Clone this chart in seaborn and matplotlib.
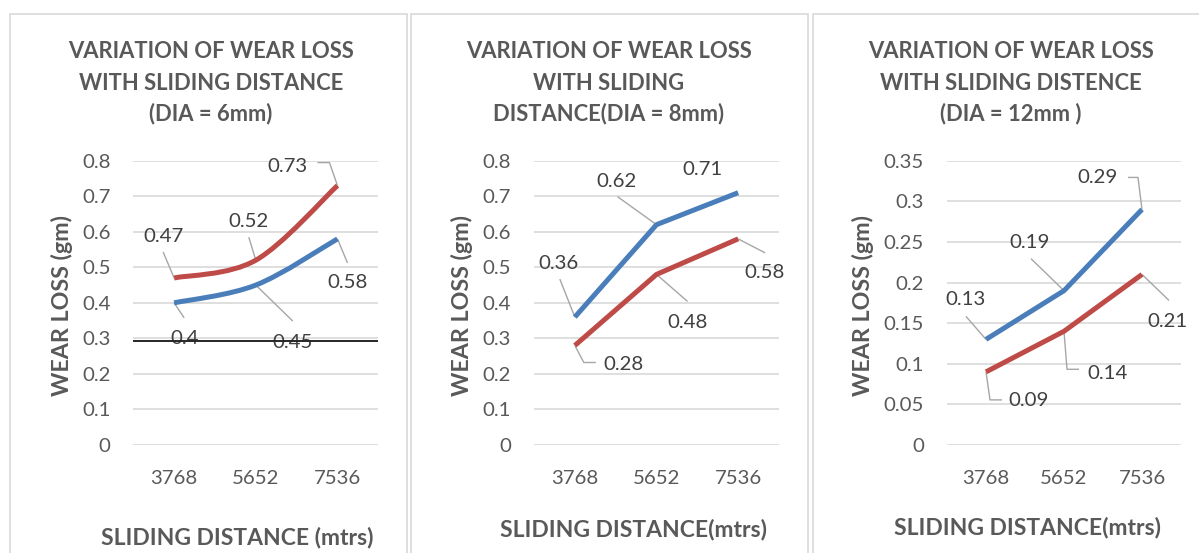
import numpy as np
import pandas as pd
import matplotlib
matplotlib.use("Agg")
import matplotlib.pyplot as plt
from matplotlib.path import Path
from matplotlib.patches import PathPatch, Rectangle
import seaborn as sns

# ---------------- data ----------------
distances = ["3768", "5652", "7536"]

p1_blue = [0.40, 0.45, 0.58]
p1_red = [0.47, 0.52, 0.73]
p2_blue = [0.36, 0.62, 0.71]
p2_red = [0.28, 0.48, 0.58]
p3_blue = [0.13, 0.19, 0.29]
p3_red = [0.09, 0.14, 0.21]
p1_ref_line = 0.293

titles = [
    ["VARIATION OF WEAR LOSS", "WITH SLIDING DISTANCE", "(DIA = 6mm)"],
    ["VARIATION OF WEAR LOSS", "WITH SLIDING", "DISTANCE(DIA = 8mm)"],
    ["VARIATION OF WEAR LOSS", "WITH SLIDING DISTENCE", "(DIA = 12mm )"],
]
x_titles = ["SLIDING DISTANCE (mtrs)", "SLIDING DISTANCE(mtrs)", "SLIDING DISTANCE(mtrs)"]
y_title = "WEAR LOSS (gm)"

yticks_08 = [0, 0.1, 0.2, 0.3, 0.4, 0.5, 0.6, 0.7, 0.8]
ytick_labels_08 = ["0", "0.1", "0.2", "0.3", "0.4", "0.5", "0.6", "0.7", "0.8"]
yticks_035 = [0, 0.05, 0.1, 0.15, 0.2, 0.25, 0.3, 0.35]
ytick_labels_035 = ["0", "0.05", "0.1", "0.15", "0.2", "0.25", "0.3", "0.35"]

# ---------------- style / layout ----------------
sns.set_style("white")
plt.rcParams["font.family"] = ["Lato", "DejaVu Sans"]

BLUE = "#4A7EBB"
RED = "#BE4B48"
TXT = "#595959"
LBL = "#404040"
GRID = "#D9D9D9"
LEAD = "#A6A6A6"

W, H = 1199, 553
fig = plt.figure(figsize=(W / 100, H / 100), dpi=100)
renderer = fig.canvas.get_renderer()


def fit_size(text, target_px, **kw):
    t = fig.text(0, 0, text, fontsize=10, **kw)
    w = t.get_window_extent(renderer).width
    t.remove()
    return 10 * target_px / w


FS_TICK = fit_size("3768", 47)
FS_TITLE = fit_size("VARIATION OF WEAR LOSS", 286, fontweight="bold")
FS_YLAB = fit_size(y_title, 181, fontweight="bold")
FS_XLAB = fit_size("SLIDING DISTANCE (mtrs)", 272, fontweight="bold")

AX_TOP, AX_BOT = 160.7, 445.0

# label offsets in pixels (dx right, dy up) plus leader vertices
panels = [
    dict(blue=p1_blue, red=p1_red, smooth=True, ymax=0.8, yt=yticks_08, ytl=ytick_labels_08,
         left=133.3, width=245, border=(10, 407), title_cx=211, ylab_cx=62, xlab=(237, 537),
         labels=dict(
             blue=[(10, -36, [(10, -15)]), (37, -57, [(37, -36)]), (10, -44, [(10, -24)])],
             red=[(-11, 41, [(-11, 26)]), (-7, 39, [(-7, 23)]), (-50, 19, [(-8, 23), (-20, 23)])])),
    dict(blue=p2_blue, red=p2_red, smooth=False, ymax=0.8, yt=yticks_08, ytl=ytick_labels_08,
         left=534, width=245, border=(411, 808), title_cx=609, ylab_cx=462, xlab=(633, 529),
         labels=dict(
             blue=[(-16, 54, [(-15, 38)]), (-40, 43, [(-39, 28)]), (-36, 23, [])],
             red=[(49, -19, [(9, -17), (21, -17)]), (31, -48, [(31, -27)]), (26, -34, [(27, -14)])])),
    dict(blue=p3_blue, red=p3_red, smooth=False, ymax=0.35, yt=yticks_035, ytl=ytick_labels_035,
         left=947, width=234, border=(813, 1215), title_cx=1011, ylab_cx=863, xlab=(1028, 527),
         labels=dict(
             blue=[(-21, 40, [(-20, 23)]), (-34, 48, [(-33, 32)]), (-44, 32, [(-4, 32), (-14, 32)])],
             red=[(43, -29, [(4, -28), (16, -28)]), (44, -42, [(3, -38), (15, -38)]), (26, -47, [(27, -26)])])),
]


def smooth_path(xy):
    pts = np.asarray(xy, dtype=float)
    n = len(pts)
    verts = [pts[0]]
    codes = [Path.MOVETO]
    for i in range(n - 1):
        p0 = pts[max(i - 1, 0)]
        p1 = pts[i]
        p2 = pts[i + 1]
        p3 = pts[min(i + 2, n - 1)]
        verts += [p1 + (p2 - p0) / 6, p2 - (p3 - p1) / 6, p2]
        codes += [Path.CURVE4] * 3
    return Path(verts, codes)


for k, P in enumerate(panels):
    # border box
    bx0, bx1 = P["border"]
    fig.patches.append(Rectangle((bx0 / W, -0.05), (bx1 - bx0) / W, (1 - 14 / H) + 0.05,
                                 transform=fig.transFigure, fill=False,
                                 edgecolor=GRID, linewidth=1.2, zorder=0))

    ax = fig.add_axes([P["left"] / W, 1 - AX_BOT / H, P["width"] / W, (AX_BOT - AX_TOP) / H])
    df = pd.DataFrame({
        "pos": list(range(len(distances))) * 2,
        "loss": list(P["blue"]) + list(P["red"]),
        "series": ["blue"] * len(distances) + ["red"] * len(distances),
    })
    sns.lineplot(data=df, x="pos", y="loss", hue="series", palette={"blue": BLUE, "red": RED},
                 linewidth=3.6, legend=False, ax=ax, sort=False, zorder=3)
    for ln in ax.get_lines():
        ln.set_solid_capstyle("butt")
        ln.set_solid_joinstyle("round")
        if P["smooth"]:
            patch = PathPatch(smooth_path(ln.get_xydata()), facecolor="none",
                              edgecolor=ln.get_color(), linewidth=3.6,
                              capstyle="butt", joinstyle="round", zorder=3)
            ax.add_patch(patch)
            ln.set_visible(False)

    ax.set_xlim(-0.5, len(distances) - 0.5)
    ax.set_ylim(0, P["ymax"])
    ax.set_xticks(range(len(distances)))
    ax.set_xticklabels(distances)
    ax.set_yticks(P["yt"])
    ax.set_yticklabels(P["ytl"])
    ax.tick_params(axis="x", length=0, pad=18, labelsize=FS_TICK, labelcolor=TXT)
    ax.tick_params(axis="y", length=0, pad=16.5, labelsize=FS_TICK, labelcolor=TXT)
    ax.grid(axis="y", color=GRID, linewidth=1.2, zorder=0)
    ax.grid(axis="x", visible=False)
    for s in ax.spines.values():
        s.set_visible(False)
    ax.set_facecolor("none")

    # axis titles
    ax.set_ylabel(y_title, fontsize=FS_YLAB, fontweight="bold", color=TXT, va="center", ha="center")
    ax.yaxis.set_label_coords((P["ylab_cx"] - P["left"]) / P["width"], (AX_BOT - 306) / (AX_BOT - AX_TOP))
    ax.set_xlabel(x_titles[k], fontsize=FS_XLAB, fontweight="bold", color=TXT, va="center", ha="center")
    ax.xaxis.set_label_coords((P["xlab"][0] - P["left"]) / P["width"], (AX_BOT - P["xlab"][1]) / (AX_BOT - AX_TOP))

    # chart title lines
    for j, line in enumerate(titles[k]):
        fig.text(P["title_cx"] / W, 1 - (52 + 31 * j) / H, line, ha="center", va="center",
                 fontsize=FS_TITLE, fontweight="bold", color=TXT)

    # data labels with leader lines
    inv = ax.transData.inverted()
    for series in ("blue", "red"):
        vals = P[series]
        for i, v in enumerate(vals):
            dx, dy, leader = P["labels"][series][i]
            ax.annotate(f"{v:g}", xy=(i, v), xytext=(dx, dy), textcoords="offset pixels",
                        ha="center", va="center", fontsize=FS_TICK, color=LBL, zorder=4,
                        annotation_clip=False)
            if leader:
                base = ax.transData.transform((i, v))
                pix = [base] + [base + np.array(o) for o in leader]
                dat = inv.transform(np.array(pix))
                ax.plot(dat[:, 0], dat[:, 1], color=LEAD, linewidth=1.0, zorder=2,
                        clip_on=False, solid_capstyle="butt")

    if k == 0:
        ax.axhline(p1_ref_line, color="#262626", linewidth=1.4, zorder=5)

fig.savefig("out.png", dpi=100, facecolor="white")
